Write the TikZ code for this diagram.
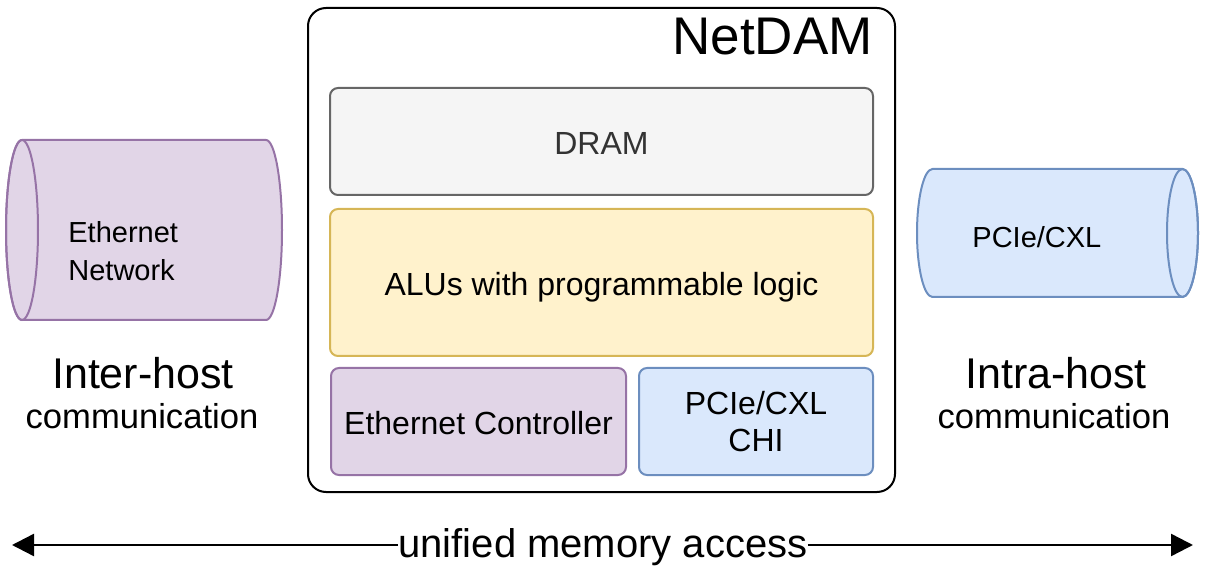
\documentclass[tikz,border=0pt]{standalone}
\usepackage{fontspec}
\setmainfont{Liberation Sans}
\usetikzlibrary{arrows.meta,positioning}

\definecolor{dramfill}{HTML}{F5F5F5}
\definecolor{dramline}{HTML}{666666}
\definecolor{dramtext}{HTML}{333333}
\definecolor{alufill}{HTML}{FFF2CC}
\definecolor{aluline}{HTML}{D6B656}
\definecolor{ethfill}{HTML}{E1D5E7}
\definecolor{ethline}{HTML}{9673A6}
\definecolor{pcifill}{HTML}{DAE8FC}
\definecolor{pciline}{HTML}{6C8EBF}

\tikzset{
  part/.style={draw,line width=1pt,rounded corners=4pt,text height=13pt,text depth=0pt,
    font=\fontsize{16}{18.5}\selectfont},
  pipe/.style={line width=1pt},
  pipetext/.style={font=\fontsize{14.5}{19}\selectfont,align=left},
  bigword/.style={font=\fontsize{21.5}{26}\selectfont},
  smallword/.style={font=\fontsize{17.3}{21}\selectfont},
  bus/.style={line width=1.2pt,-{Triangle[length=11pt,width=11pt]}}
}

\begin{document}
\begin{tikzpicture}[x=0.5pt,y=-0.5pt,inner sep=0pt]
\useasboundingbox (0,0) rectangle (1211,588);

% the NetDAM card
\node (card) at (601.5,250) [draw,line width=1pt,rounded corners=9pt,minimum width=293.5pt,minimum height=242pt] {};
\node (title) at (873,55) [anchor=base east,font=\fontsize{26.5}{32}\selectfont] {NetDAM};

\node (dram) at (601.5,141.5) [part,fill=dramfill,draw=dramline,text=dramtext,minimum width=271.5pt,minimum height=53.5pt] {DRAM};
\node (alu) at (601.5,282.5) [part,fill=alufill,draw=aluline,minimum width=271.5pt,minimum height=73.5pt] {ALUs with programmable logic};
\node (ethctrl) at (478.5,421.5) [part,fill=ethfill,draw=ethline,minimum width=147.5pt,minimum height=53.5pt] {Ethernet Controller};
\node (chi) at (756,421.5) [part,fill=pcifill,draw=pciline,minimum width=117pt,minimum height=53.5pt,
  text height={},text depth={},align=center] {PCIe/CXL\\CHI};

% inter-host side
\filldraw[pipe,fill=ethfill,draw=ethline] (22,140) -- (266,140)
  arc[start angle=90,end angle=-90,x radius=8pt,y radius=45pt] -- (22,320)
  arc[start angle=270,end angle=90,x radius=8pt,y radius=45pt] -- cycle;
\draw[pipe,draw=ethline] (22,230) ellipse [x radius=8pt,y radius=45pt];
\node (ethnet) at (68,251.5) [pipetext,anchor=west] {Ethernet\\Network};

\node (inter) at (143,388) [bigword,anchor=base] {Inter-host};
\node (intercom) at (142,429) [smallword,anchor=base] {communication};

% intra-host side
\filldraw[pipe,fill=pcifill,draw=pciline] (1182.5,169) -- (932.5,169)
  arc[start angle=90,end angle=270,x radius=7.75pt,y radius=32pt] -- (1182.5,297)
  arc[start angle=-90,end angle=90,x radius=7.75pt,y radius=32pt] -- cycle;
\draw[pipe,draw=pciline] (1182.5,233) ellipse [x radius=7.75pt,y radius=32pt];
\node (pcinet) at (972,248) [pipetext,anchor=base west] {PCIe/CXL};

\node (intra) at (1056,388) [bigword,anchor=base] {Intra-host};
\node (intracom) at (1054,429) [smallword,anchor=base] {communication};

% unified access
\node (uma) at (603,557) [anchor=base,font=\fontsize{20}{24}\selectfont] {unified memory access};
\coordinate (lend) at (12,545);
\coordinate (rend) at (1193,545);
\draw[bus] (uma.west |- lend) -- (lend);
\draw[bus] (uma.east |- rend) -- (rend);

\end{tikzpicture}
\end{document}
